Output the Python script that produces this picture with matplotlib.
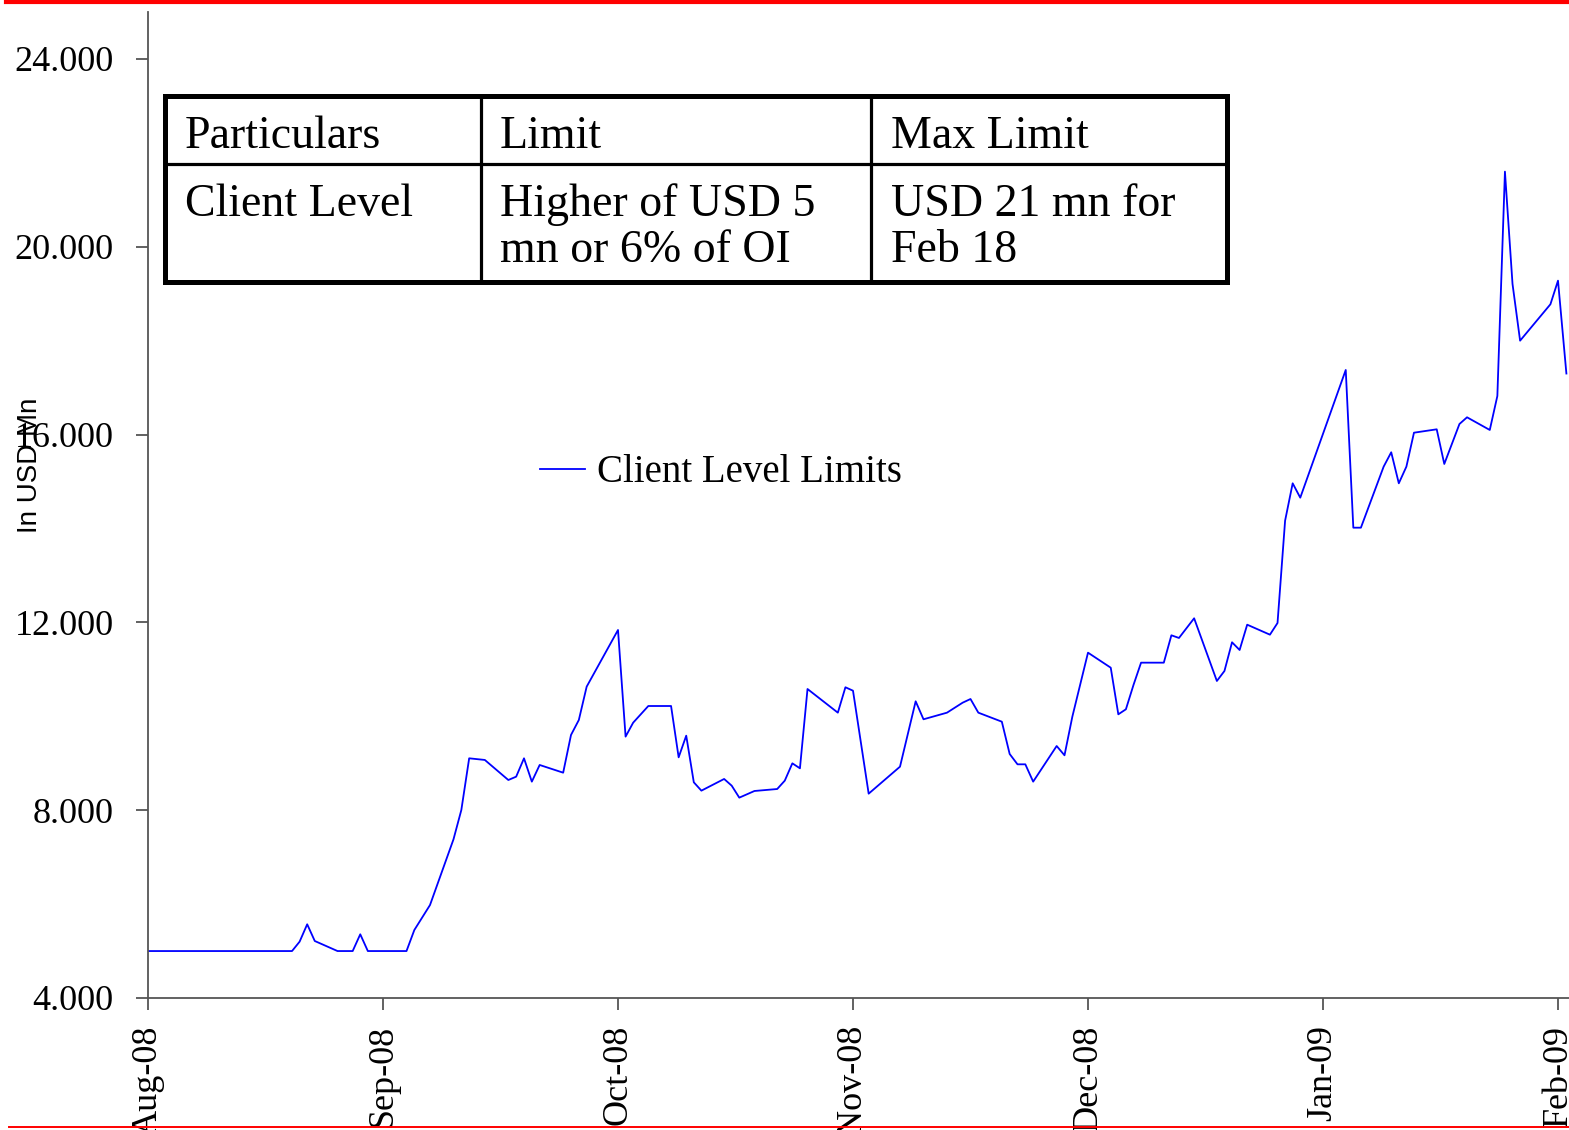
import matplotlib
matplotlib.use("Agg")
import matplotlib.pyplot as plt
import pandas as pd
from matplotlib.lines import Line2D
from matplotlib.patches import Rectangle
from matplotlib.ticker import FuncFormatter, FixedLocator

plt.rcParams['font.family'] = ['Liberation Serif', 'DejaVu Serif']

# ---------------- data ----------------
dates = [
    "2008-08-01", "2008-08-20", "2008-08-21", "2008-08-22", "2008-08-23", "2008-08-26",
    "2008-08-28", "2008-08-29", "2008-08-30",
    "2008-09-04", "2008-09-05", "2008-09-07", "2008-09-10", "2008-09-11", "2008-09-12",
    "2008-09-14", "2008-09-17", "2008-09-18", "2008-09-19", "2008-09-20", "2008-09-21",
    "2008-09-24", "2008-09-25", "2008-09-26", "2008-09-27",
    "2008-10-01", "2008-10-02", "2008-10-03", "2008-10-05", "2008-10-08", "2008-10-09",
    "2008-10-10", "2008-10-11", "2008-10-12", "2008-10-15", "2008-10-16", "2008-10-17",
    "2008-10-19", "2008-10-22", "2008-10-23", "2008-10-24", "2008-10-25", "2008-10-26",
    "2008-10-30", "2008-10-31",
    "2008-11-01", "2008-11-03", "2008-11-07", "2008-11-09", "2008-11-10", "2008-11-13",
    "2008-11-15", "2008-11-16", "2008-11-17", "2008-11-20", "2008-11-21", "2008-11-22",
    "2008-11-23", "2008-11-24", "2008-11-27", "2008-11-28", "2008-11-29",
    "2008-12-01", "2008-12-04", "2008-12-05", "2008-12-06", "2008-12-07", "2008-12-08",
    "2008-12-11", "2008-12-12", "2008-12-13", "2008-12-15", "2008-12-18", "2008-12-19",
    "2008-12-20", "2008-12-21", "2008-12-22", "2008-12-25", "2008-12-26", "2008-12-27",
    "2008-12-28", "2008-12-29",
    "2009-01-04", "2009-01-05", "2009-01-06", "2009-01-09", "2009-01-10", "2009-01-11",
    "2009-01-12", "2009-01-13", "2009-01-16", "2009-01-17", "2009-01-19", "2009-01-20",
    "2009-01-23", "2009-01-24", "2009-01-25", "2009-01-26", "2009-01-27", "2009-01-31",
    "2009-02-01", "2009-02-02",
]
client_limits = [
    5000, 5000, 5200, 5570, 5214, 5000,
    5000, 5357, 5000,
    5000, 5448, 5980, 7380, 8004, 9105,
    9070, 8643, 8714, 9105, 8608, 8963,
    8799, 9602, 9921, 10631,
    11838, 9567, 9864, 10219, 10219, 9126,
    9587, 8594, 8416, 8665, 8522, 8267,
    8409, 8451, 8629, 8998, 8892, 10581,
    10077, 10618,
    10545, 8352, 8927, 10319, 9936, 10077,
    10290, 10368, 10077, 9885, 9197, 8977,
    8977, 8608, 9367, 9169, 9991,
    11355, 11035, 10042, 10149, 10667, 11142,
    11142, 11725, 11668, 12087, 10752, 10965,
    11576, 11412, 11951, 11738, 11987, 14166,
    14962, 14656,
    17376, 14017, 14017, 15317, 15623, 14962,
    15317, 16040, 16112, 15374, 16225, 16368,
    16098, 16822, 21600, 19208, 18000, 18775,
    19278, 17300,
]
month_labels = ["Aug-08", "Sep-08", "Oct-08", "Nov-08", "Dec-08", "Jan-09", "Feb-09"]
y_ticks = [4000, 8000, 12000, 16000, 20000, 24000]
series_name = "Client Level Limits"
y_label = "In USD Mn"
table_header = ["Particulars", "Limit", "Max Limit"]
table_body = [["Client Level"], ["Higher of USD 5", "mn or 6% of OI"], ["USD 21 mn for", "Feb 18"]]

# each month occupies equal width on the category-like time axis
d = pd.to_datetime(pd.Series(dates))
month_idx = (d.dt.year - 2008) * 12 + d.dt.month - 8
xpos = month_idx + (d.dt.day - 1) / d.dt.days_in_month

# ---------------- figure ----------------
W, H, DPI = 1569, 1130, 100
fig = plt.figure(figsize=(W / DPI, H / DPI), dpi=DPI)
fig.patch.set_facecolor("white")

def fx(px):
    return px / W

def fy(py):
    return 1 - py / H

px_month = 235
xmax = 6.2
ax = fig.add_axes([fx(148), fy(998), xmax * px_month / W, (998 - 12) / H])
ax.set_xlim(0, xmax)
ax.set_ylim(4000, 25000)

line, = ax.plot(xpos, client_limits, color="#0000ff", lw=1.3, label=series_name)

axis_col = "#555555"
for s in ["top", "right"]:
    ax.spines[s].set_visible(False)
for s in ["left", "bottom"]:
    ax.spines[s].set_color(axis_col)
    ax.spines[s].set_linewidth(1.3)

ax.xaxis.set_major_locator(FixedLocator(range(len(month_labels))))
ax.set_xticklabels(month_labels, rotation=90, fontsize=26)
ax.yaxis.set_major_locator(FixedLocator(y_ticks))
ax.yaxis.set_major_formatter(FuncFormatter(lambda v, p: f"{v:,.0f}".replace(",", ".")))
ax.tick_params(axis="y", direction="out", length=8.6, width=1.3, color=axis_col,
               labelsize=26, pad=16)
ax.tick_params(axis="x", direction="out", length=8.6, width=1.3, color=axis_col,
               labelsize=26, pad=11)

fig.text(fx(30), fy(465), y_label, rotation=90, ha="center", va="center",
         fontsize=20, family=["Liberation Sans", "DejaVu Sans"])

ax.legend(handles=[line], loc="center left", bbox_to_anchor=(fx(540), fy(473)),
          bbox_transform=fig.transFigure, frameon=False, handlelength=1.16,
          handletextpad=0.3, borderpad=0, borderaxespad=0,
          prop={"family": "Liberation Serif", "size": 28})

# ---------------- table ----------------
tl, tr, tt, tb = 165, 1227, 96, 282
hsplit = 164
vsplits = [481, 871]
fig.add_artist(Rectangle((fx(tl), fy(tb)), fx(tr) - fx(tl), fy(tt) - fy(tb),
                         transform=fig.transFigure, facecolor="white",
                         edgecolor="black", lw=3.6, zorder=5))
fig.add_artist(Line2D([fx(tl), fx(tr)], [fy(hsplit), fy(hsplit)], color="black",
                      lw=2.3, zorder=6))
for vx in vsplits:
    fig.add_artist(Line2D([fx(vx), fx(vx)], [fy(tt), fy(tb)], color="black",
                          lw=2.3, zorder=6))
col_x = [185, 500, 891]
for cx, txt in zip(col_x, table_header):
    fig.text(fx(cx), fy(148), txt, ha="left", va="baseline", fontsize=33, zorder=7)
body_baselines = [216, 262]
for cx, lines in zip(col_x, table_body):
    for by, txt in zip(body_baselines, lines):
        fig.text(fx(cx), fy(by), txt, ha="left", va="baseline", fontsize=33, zorder=7)

# ---------------- red rules ----------------
fig.add_artist(Line2D([fx(6), 1], [fy(2), fy(2)], color="red", lw=3.0, zorder=10))
fig.add_artist(Line2D([fx(9), 1], [fy(1127), fy(1127)], color="red", lw=1.4, zorder=10))

fig.savefig("out.png", dpi=DPI, facecolor="white")
